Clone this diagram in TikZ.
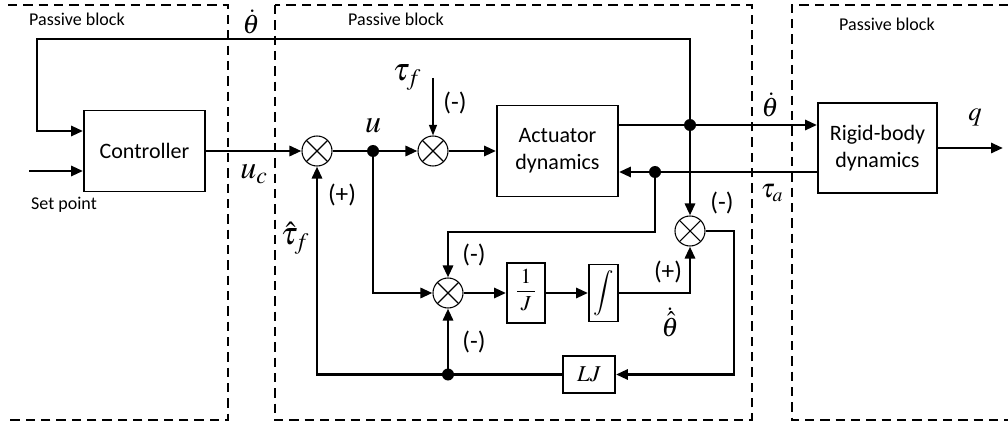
\documentclass[tikz,border=0pt]{standalone}
\usepackage{mathptmx}
\usepackage{fontspec}
\setmainfont{Carlito}
\usetikzlibrary{arrows.meta,calc}
\begin{document}
\begin{tikzpicture}[x=0.75pt,y=-0.75pt,
  box/.style={draw,line width=1.4pt,inner sep=0pt,align=center,font=\fontsize{16.5}{20}\selectfont},
  sumj/.style={circle,draw,line width=0.8pt,minimum size=22.5pt,inner sep=0pt,
    path picture={\draw[line width=0.8pt] (path picture bounding box.north west) -- (path picture bounding box.south east)
      (path picture bounding box.north east) -- (path picture bounding box.south west);}},
  dotj/.style={circle,fill,inner sep=0pt,minimum size=9pt},
  wire/.style={line width=2.2pt},
  arr/.style={wire,-{Triangle[length=9pt,width=7.5pt]}},
  thinarr/.style={line width=1pt,-{Triangle[length=8pt,width=6pt]}},
  passive/.style={dash pattern=on 7pt off 4.5pt,line width=0.9pt},
  lbl/.style={font=\fontsize{13.5}{16}\selectfont},
  sgn/.style={font=\fontsize{19}{22}\selectfont},
  mth/.style={font=\fontsize{20}{24}\selectfont},
  mthb/.style={font=\fontsize{24}{28}\selectfont}]
\useasboundingbox (0,0) rectangle (1008,428);
% passive blocks
\draw[passive] (8,5) -- (228,5) -- (228,420) -- (8,420);
\draw[passive] (275,5) rectangle (752,420);
\draw[passive] (1008,5) -- (792,5) -- (792,420) -- (1008,420);
\node[lbl] (pb1) at (77,19) {Passive block};
\node[lbl] (pb2) at (396,19) {Passive block};
\node[lbl] (pb3) at (887,24) {Passive block};
% blocks
\node[box,minimum width=90.75pt,minimum height=60.75pt] (ctrl) at (144.5,151) {Controller};
\node[box,minimum width=90.75pt,minimum height=68.25pt] (act) at (557.5,151) {Actuator\\dynamics};
\node[box,minimum width=89.25pt,minimum height=67.5pt] (rb) at (877.5,148) {Rigid-body\\dynamics};
\node[box,minimum width=28.5pt,minimum height=45pt,font=\fontsize{16}{19}\selectfont] (invj) at (526,293)
  {\renewcommand\arraystretch{0.8}$\begin{array}{@{\hspace{2.5pt}}c@{\hspace{2.5pt}}}1\\[1pt]\hline\rule{0pt}{14pt}J\end{array}$};
\node[box,minimum width=21.75pt,minimum height=42.75pt,font=\fontsize{17}{20}\selectfont] (intg) at (603.5,293) {$\displaystyle\int$};
\node[box,minimum width=39pt,minimum height=27.75pt,font=\fontsize{17}{20}\selectfont] (lj) at (589,374.5) {$LJ$};
% junctions
\node[sumj] (s1) at (317,151) {};
\node[sumj] (s2) at (433,151) {};
\node[sumj] (s3) at (690,231) {};
\node[sumj] (s4) at (448,293) {};
\node[dotj] (du) at (373,151) {};
\node[dotj] (dth) at (690,125) {};
\node[dotj] (dta) at (655,172) {};
\node[dotj] (dlj) at (448,374.5) {};
% coordinates
\coordinate (tl) at (37,39);
\coordinate (tr) at (690,39);
\coordinate (ci1) at ($(ctrl.west)+(0,-20)$);
\coordinate (ci2) at ($(ctrl.west)+(0,20)$);
\coordinate (sp) at (29,171);
\coordinate (tf) at (433,78);
\coordinate (qe) at (1003,148);
\coordinate (c2) at (734,374.5);
\coordinate (c6) at (448,232);
% connectors
\draw[arr] (dth.center) -- (tr) -- (tl) |- (ci1);
\draw[arr] (sp) -- (ci2);
\draw[arr] (ctrl) -- (s1);
\draw[wire] (s1) -- (du.center);
\draw[arr] (du) -- (s2);
\draw[arr] (s2) -- (act);
\draw[thinarr] (tf) -- (s2);
\draw[wire] (act.east |- dth) -- (dth.center);
\draw[arr] (dth.center) -- (rb.west |- dth);
\draw[arr] (rb.west |- dta) -- (act.east |- dta);
\draw[arr] (dth.center) -- (s3);
\draw[arr] (s3.east) -| (c2) -- (lj);
\draw[wire] (lj) -- (dlj.center);
\draw[arr] (dlj.center) -| (s1);
\draw[arr] (dlj.center) -- (s4);
\draw[arr] (du.center) |- (s4);
\draw[arr] (dta.center) |- (c6) -- (s4);
\draw[arr] (s4) -- (invj);
\draw[arr] (invj) -- (intg);
\draw[arr] (intg) -| (s3);
\draw[arr] (rb) -- (qe);
% labels
\node[mth] (l1) at (251,22) {$\dot{\theta}$};
\node[mthb] (l2) at (254,174) {$u_c$};
\node[mthb] (l3) at (373,126) {$u$};
\node[mthb] (l4) at (407,78) {$\tau_f$};
\node[sgn] (l5) at (455,103) {(-)};
\node[mth] (l6) at (770,105) {$\dot{\theta}$};
\node[mth] (l7) at (772,193) {$\tau_a$};
\node[mth] (l8) at (975,117) {$q$};
\node[sgn] (l9) at (722,203) {(-)};
\node[mthb] (l10) at (295,238) {$\hat{\tau}_f$};
\node[sgn] (l11) at (342,195) {(+)};
\node[sgn] (l12) at (474,255) {(-)};
\node[sgn] (l13) at (474,342) {(-)};
\node[sgn] (l14) at (668,272) {(+)};
\node[mth] (l15) at (670,322) {$\dot{\hat{\theta}}$};
\node[lbl] (l16) at (64,205) {Set point};
\end{tikzpicture}
\end{document}
